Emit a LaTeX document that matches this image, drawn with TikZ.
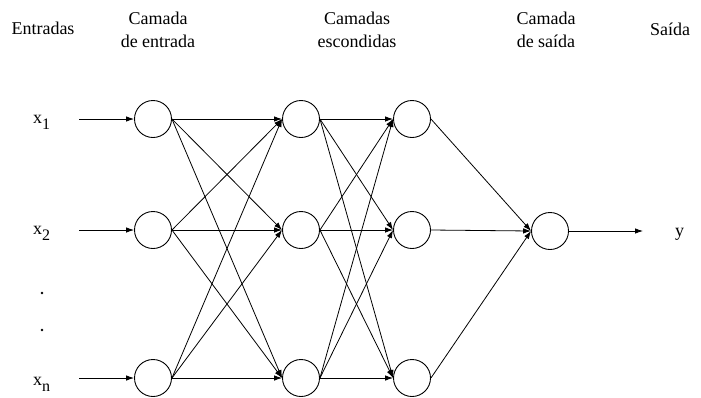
\documentclass[tikz,border=0pt]{standalone}
\usepackage{fontspec}
\setmainfont{Liberation Serif}
\usetikzlibrary{arrows.meta}
\newcommand{\lowidx}[1]{\raisebox{-6.5pt}{\fontsize{16}{16}\selectfont #1}}
\begin{document}
\begin{tikzpicture}[x=1pt,y=-1pt,
  neuron/.style={circle,draw,line width=0.9pt,minimum size=37pt,inner sep=0pt},
  link/.style={line width=0.8pt,-{Latex[length=8pt,width=5.5pt]}},
  lbl/.style={font=\fontsize{18}{23}\selectfont,align=center,inner sep=0pt},
  sym/.style={font=\fontsize{18}{23}\selectfont,inner sep=0pt,anchor=base west}]
\useasboundingbox (0,0) rectangle (701,397);

% column headers
\node[lbl] (hIn)  at (43,28)  {Entradas};
\node[lbl] (hL1)  at (158,30) {Camada\\de entrada};
\node[lbl] (hL2)  at (357,30) {Camadas\\escondidas};
\node[lbl] (hL3)  at (546,30) {Camada\\de saída};
\node[lbl] (hOut) at (670,29) {Saída};

% input symbols
\node[sym] (x1) at (33,123) {x\lowidx{1}};
\node[sym] (x2) at (33,234) {x\lowidx{2}};
\node[sym] (xn) at (33,385) {x\lowidx{n}};
\fill (42,293) circle (1.3pt);
\fill (42,330) circle (1.3pt);
\coordinate (s1) at (79,119);
\coordinate (s2) at (79,230);
\coordinate (sn) at (79,378);

% layers
\node[neuron] (a1) at (153,119) {};
\node[neuron] (a2) at (153,230) {};
\node[neuron] (a3) at (153,378) {};
\node[neuron] (b1) at (301,119) {};
\node[neuron] (b2) at (301,230) {};
\node[neuron] (b3) at (301,378) {};
\node[neuron] (c1) at (412,119) {};
\node[neuron] (c2) at (412,230) {};
\node[neuron] (c3) at (412,378) {};
\node[neuron] (o)  at (550,231) {};

% output
\coordinate (yend) at (643,231);
\node[sym] (y) at (675,236) {y};

% connections
\draw[link] (s1) -- (a1.west);
\draw[link] (s2) -- (a2.west);
\draw[link] (sn) -- (a3.west);
\foreach \i in {1,2,3}{
  \foreach \j in {1,2,3}{
    \draw[link] (a\i.east) -- (b\j.west);
    \draw[link] (b\i.east) -- (c\j.west);
  }
  \draw[link] (c\i.east) -- (o.west);
}
\draw[link] (o.east) -- (yend);
\end{tikzpicture}
\end{document}
